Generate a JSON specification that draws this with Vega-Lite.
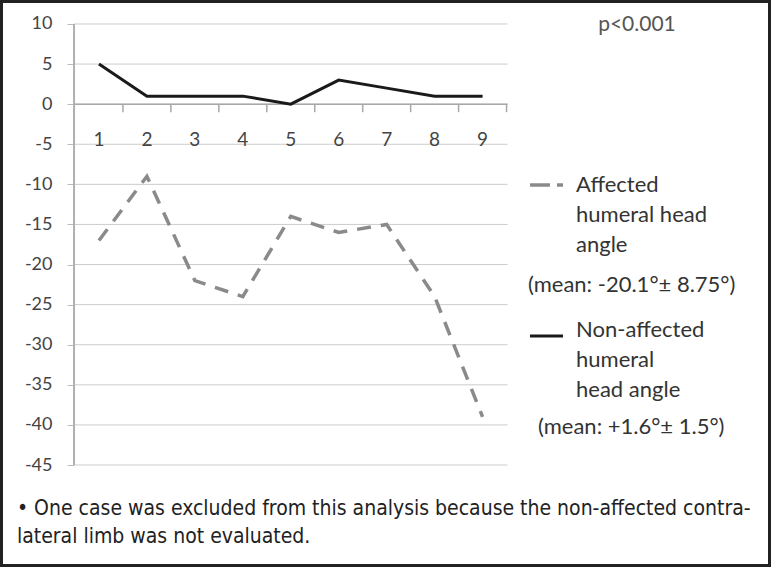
{
  "$schema": "https://vega.github.io/schema/vega-lite/v6.json",
  "width": 771,
  "height": 567,
  "autosize": "none",
  "padding": 0,
  "background": "white",
  "config": {"view": {"stroke": "#222222", "strokeWidth": 6}},
  "datasets": {
    "series": [
      {"case": 1, "angle": 5, "group": "Non-affected"},
      {"case": 2, "angle": 1, "group": "Non-affected"},
      {"case": 3, "angle": 1, "group": "Non-affected"},
      {"case": 4, "angle": 1, "group": "Non-affected"},
      {"case": 5, "angle": 0, "group": "Non-affected"},
      {"case": 6, "angle": 3, "group": "Non-affected"},
      {"case": 7, "angle": 2, "group": "Non-affected"},
      {"case": 8, "angle": 1, "group": "Non-affected"},
      {"case": 9, "angle": 1, "group": "Non-affected"},
      {"case": 1, "angle": -17, "group": "Affected"},
      {"case": 2, "angle": -9, "group": "Affected"},
      {"case": 3, "angle": -22, "group": "Affected"},
      {"case": 4, "angle": -24, "group": "Affected"},
      {"case": 5, "angle": -14, "group": "Affected"},
      {"case": 6, "angle": -16, "group": "Affected"},
      {"case": 7, "angle": -15, "group": "Affected"},
      {"case": 8, "angle": -24, "group": "Affected"},
      {"case": 9, "angle": -39, "group": "Affected"}
    ],
    "grid": [{"v": 10}, {"v": 5}, {"v": 0}, {"v": -5}, {"v": -10}, {"v": -15}, {"v": -20}, {"v": -25}, {"v": -30}, {"v": -35}, {"v": -40}, {"v": -45}],
    "xticks": [{"b": 1.5}, {"b": 2.5}, {"b": 3.5}, {"b": 4.5}, {"b": 5.5}, {"b": 6.5}, {"b": 7.5}, {"b": 8.5}, {"b": 9.5}],
    "cases": [{"c": 1}, {"c": 2}, {"c": 3}, {"c": 4}, {"c": 5}, {"c": 6}, {"c": 7}, {"c": 8}, {"c": 9}],
    "legendSamples": [
      {"lx": 9.989, "ly": -10.08, "group": "Affected"},
      {"lx": 10.677, "ly": -10.08, "group": "Affected"},
      {"lx": 9.989, "ly": -28.9, "group": "Non-affected"},
      {"lx": 10.677, "ly": -28.9, "group": "Non-affected"}
    ],
    "legendText": [
      {"tx": 10.949, "ty": -10.08, "t": "Affected"},
      {"tx": 10.949, "ty": -13.82, "t": "humeral head"},
      {"tx": 10.949, "ty": -17.6, "t": "angle"},
      {"tx": 9.947, "ty": -22.56, "t": "(mean: -20.1°± 8.75°)"},
      {"tx": 10.949, "ty": -28.16, "t": "Non-affected"},
      {"tx": 10.949, "ty": -31.91, "t": "humeral"},
      {"tx": 10.949, "ty": -35.65, "t": "head angle"},
      {"tx": 10.156, "ty": -40.26, "t": "(mean: +1.6°± 1.5°)"}
    ],
    "notes": [
      {"nx": -0.71, "ny": -50.49, "t": "• One case was excluded from this analysis because the non-affected contra-"},
      {"nx": -0.71, "ny": -53.98, "t": "lateral limb was not evaluated."}
    ]
  },
  "layer": [
    {
      "data": {"name": "grid"},
      "mark": {"type": "rule", "color": "#cccccc", "strokeWidth": 1},
      "encoding": {
        "x": {"datum": 0.48, "type": "quantitative", "scale": {"domain": [-1.064, 15.015], "nice": false, "zero": false}, "axis": null},
        "x2": {"datum": 9.52},
        "y": {
          "field": "v", "type": "quantitative",
          "scale": {"domain": [-57.72, 12.99], "nice": false, "zero": false},
          "axis": {
            "orient": "left", "offset": -74, "values": [10, 5, 0, -5, -10, -15, -20, -25, -30, -35, -40, -45],
            "labelExpr": "'' + datum.value",
            "domain": false, "grid": false, "ticks": true, "tickSize": 7, "tickColor": "#bbbbbb", "tickWidth": 1,
            "labelPadding": 15, "labelFont": "Lato", "labelFontSize": 18, "labelColor": "#444444", "title": null
          }
        }
      }
    },
    {
      "data": {"values": [{}]},
      "mark": {"type": "rule", "color": "#a8a8a8", "strokeWidth": 1.5},
      "encoding": {"x": {"datum": 0.5}, "x2": {"datum": 9.52}, "y": {"datum": 0}}
    },
    {
      "data": {"values": [{}]},
      "mark": {"type": "rule", "color": "#b0b0b0", "strokeWidth": 2},
      "encoding": {"x": {"datum": 0.48}, "y": {"datum": -45}, "y2": {"datum": 10}}
    },
    {
      "data": {"name": "xticks"},
      "mark": {"type": "rule", "color": "#a8a8a8", "strokeWidth": 1.5},
      "encoding": {"x": {"field": "b", "type": "quantitative"}, "y": {"datum": 0}, "y2": {"datum": -1}}
    },
    {
      "data": {"name": "cases"},
      "mark": {"type": "text", "font": "Lato", "fontSize": 19, "color": "#444444", "baseline": "middle", "align": "center"},
      "encoding": {"x": {"field": "c", "type": "quantitative"}, "y": {"datum": -4.47}, "text": {"field": "c", "type": "nominal"}}
    },
    {
      "data": {"name": "series"},
      "transform": [{"filter": "datum.group === 'Affected'"}],
      "mark": {"type": "line", "color": "#8a8a8a", "strokeWidth": 3.5, "strokeDash": [14, 10]},
      "encoding": {"x": {"field": "case", "type": "quantitative"}, "y": {"field": "angle", "type": "quantitative"}}
    },
    {
      "data": {"name": "series"},
      "transform": [{"filter": "datum.group === 'Non-affected'"}],
      "mark": {"type": "line", "color": "#1a1a1a", "strokeWidth": 3},
      "encoding": {"x": {"field": "case", "type": "quantitative"}, "y": {"field": "angle", "type": "quantitative"}}
    },
    {
      "data": {"name": "legendSamples"},
      "transform": [{"filter": "datum.group === 'Affected'"}],
      "mark": {"type": "line", "color": "#8a8a8a", "strokeWidth": 3.5, "strokeDash": [20, 7]},
      "encoding": {"x": {"field": "lx", "type": "quantitative"}, "y": {"field": "ly", "type": "quantitative"}}
    },
    {
      "data": {"name": "legendSamples"},
      "transform": [{"filter": "datum.group === 'Non-affected'"}],
      "mark": {"type": "line", "color": "#1a1a1a", "strokeWidth": 3},
      "encoding": {"x": {"field": "lx", "type": "quantitative"}, "y": {"field": "ly", "type": "quantitative"}}
    },
    {
      "data": {"name": "legendText"},
      "mark": {"type": "text", "font": "Lato", "fontSize": 22, "color": "#333333", "align": "left", "baseline": "middle"},
      "encoding": {"x": {"field": "tx", "type": "quantitative"}, "y": {"field": "ty", "type": "quantitative"}, "text": {"field": "t", "type": "nominal"}}
    },
    {
      "data": {"values": [{"t": "p<0.001"}]},
      "mark": {"type": "text", "font": "Lato", "fontSize": 21, "color": "#555555", "align": "center", "baseline": "middle"},
      "encoding": {"x": {"datum": 12.22}, "y": {"datum": 9.88}, "text": {"field": "t", "type": "nominal"}}
    },
    {
      "data": {"name": "notes"},
      "mark": {"type": "text", "font": "Liberation Sans Narrow, DejaVu Sans Condensed", "fontSize": 21, "color": "#222222", "align": "left", "baseline": "middle"},
      "encoding": {"x": {"field": "nx", "type": "quantitative"}, "y": {"field": "ny", "type": "quantitative"}, "text": {"field": "t", "type": "nominal"}}
    }
  ]
}
